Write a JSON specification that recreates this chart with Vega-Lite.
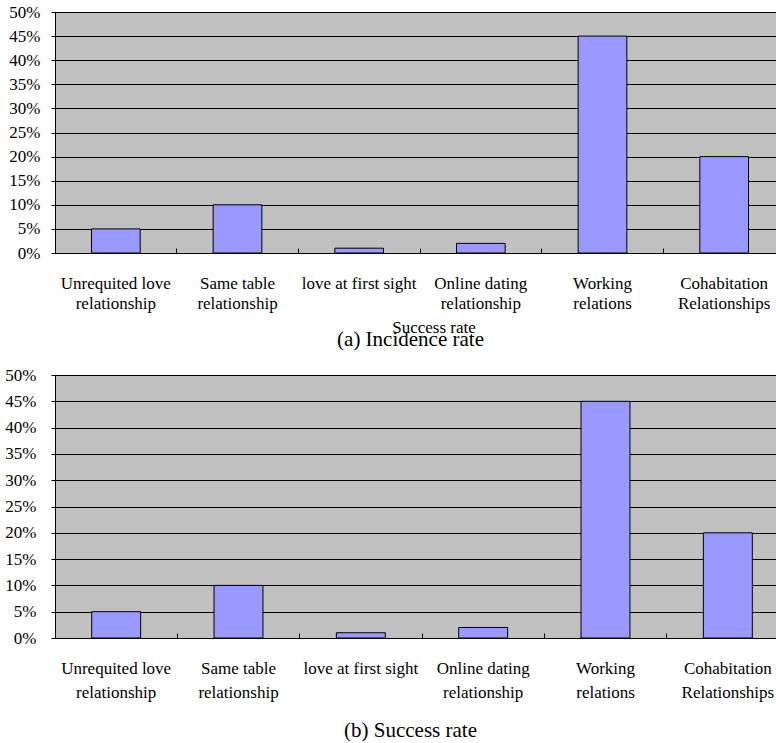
{
  "$schema": "https://vega.github.io/schema/vega-lite/v6.json",
  "background": "white",
  "padding": {"left": 0, "top": 2, "right": 0, "bottom": 0},
  "spacing": -32,
  "datasets": {
    "incidence": [
      {"category": "Unrequited love relationship", "rate": 0.05},
      {"category": "Same table relationship", "rate": 0.10},
      {"category": "love at first sight", "rate": 0.01},
      {"category": "Online dating relationship", "rate": 0.02},
      {"category": "Working relations", "rate": 0.45},
      {"category": "Cohabitation Relationships", "rate": 0.20}
    ],
    "success": [
      {"category": "Unrequited love relationship", "rate": 0.05},
      {"category": "Same table relationship", "rate": 0.10},
      {"category": "love at first sight", "rate": 0.01},
      {"category": "Online dating relationship", "rate": 0.02},
      {"category": "Working relations", "rate": 0.45},
      {"category": "Cohabitation Relationships", "rate": 0.20}
    ]
  },
  "config": {
    "font": "Liberation Serif",
    "view": {"fill": "#C0C0C0", "stroke": "#808080"},
    "axis": {
      "labelFont": "Liberation Serif",
      "titleFont": "Liberation Serif",
      "labelColor": "black",
      "titleColor": "black",
      "domainColor": "black",
      "tickColor": "black",
      "labelFontSize": 17,
      "titleFontWeight": "normal"
    }
  },
  "vconcat": [
    {
      "data": {"name": "incidence"},
      "width": 730,
      "height": 241,
      "mark": {"type": "bar", "fill": "#9999FF", "stroke": "black", "strokeWidth": 1, "width": {"band": 0.4}},
      "encoding": {
        "x": {
          "field": "category", "type": "nominal", "sort": null,
          "scale": {"paddingInner": 0, "paddingOuter": 0},
          "axis": {
            "title": "(a) Incidence rate",
            "titleFontSize": 21,
            "titleX": 355,
            "titlePadding": 17,
            "labelAngle": 0,
            "labelLineHeight": 20,
            "labelPadding": 27,
            "labelExpr": "split(replace(replace(replace(datum.label, ' relationship', '|relationship'), ' relations', '|relations'), ' Relationships', '|Relationships'), '|')",
            "bandPosition": 0,
            "tickSize": -5,
            "grid": false
          }
        },
        "y": {
          "field": "rate", "type": "quantitative",
          "scale": {"domain": [0, 0.5], "nice": false},
          "axis": {
            "title": null,
            "values": [0, 0.05, 0.1, 0.15, 0.2, 0.25, 0.3, 0.35, 0.4, 0.45, 0.5],
            "format": ".0%",
            "grid": true,
            "gridColor": "black",
            "gridOpacity": 1,
            "tickSize": 4,
            "labelPadding": 11,
            "minExtent": 54
          }
        }
      }
    },
    {
      "data": {"name": "success"},
      "width": 734,
      "height": 263,
      "title": {"text": "Success rate", "fontSize": 17, "fontWeight": "normal", "font": "Liberation Serif", "color": "black", "offset": 29, "dx": 12},
      "mark": {"type": "bar", "fill": "#9999FF", "stroke": "black", "strokeWidth": 1, "width": {"band": 0.4}},
      "encoding": {
        "x": {
          "field": "category", "type": "nominal", "sort": null,
          "scale": {"paddingInner": 0, "paddingOuter": 0},
          "axis": {
            "title": "(b) Success rate",
            "titleFontSize": 21,
            "titleX": 355,
            "titlePadding": 19,
            "labelAngle": 0,
            "labelLineHeight": 24,
            "labelPadding": 27,
            "labelExpr": "split(replace(replace(replace(datum.label, ' relationship', '|relationship'), ' relations', '|relations'), ' Relationships', '|Relationships'), '|')",
            "bandPosition": 0,
            "tickSize": -5,
            "grid": false
          }
        },
        "y": {
          "field": "rate", "type": "quantitative",
          "scale": {"domain": [0, 0.5], "nice": false},
          "axis": {
            "title": null,
            "values": [0, 0.05, 0.1, 0.15, 0.2, 0.25, 0.3, 0.35, 0.4, 0.45, 0.5],
            "format": ".0%",
            "grid": true,
            "gridColor": "black",
            "gridOpacity": 1,
            "tickSize": 4,
            "labelPadding": 15,
            "minExtent": 54
          }
        }
      }
    }
  ]
}
